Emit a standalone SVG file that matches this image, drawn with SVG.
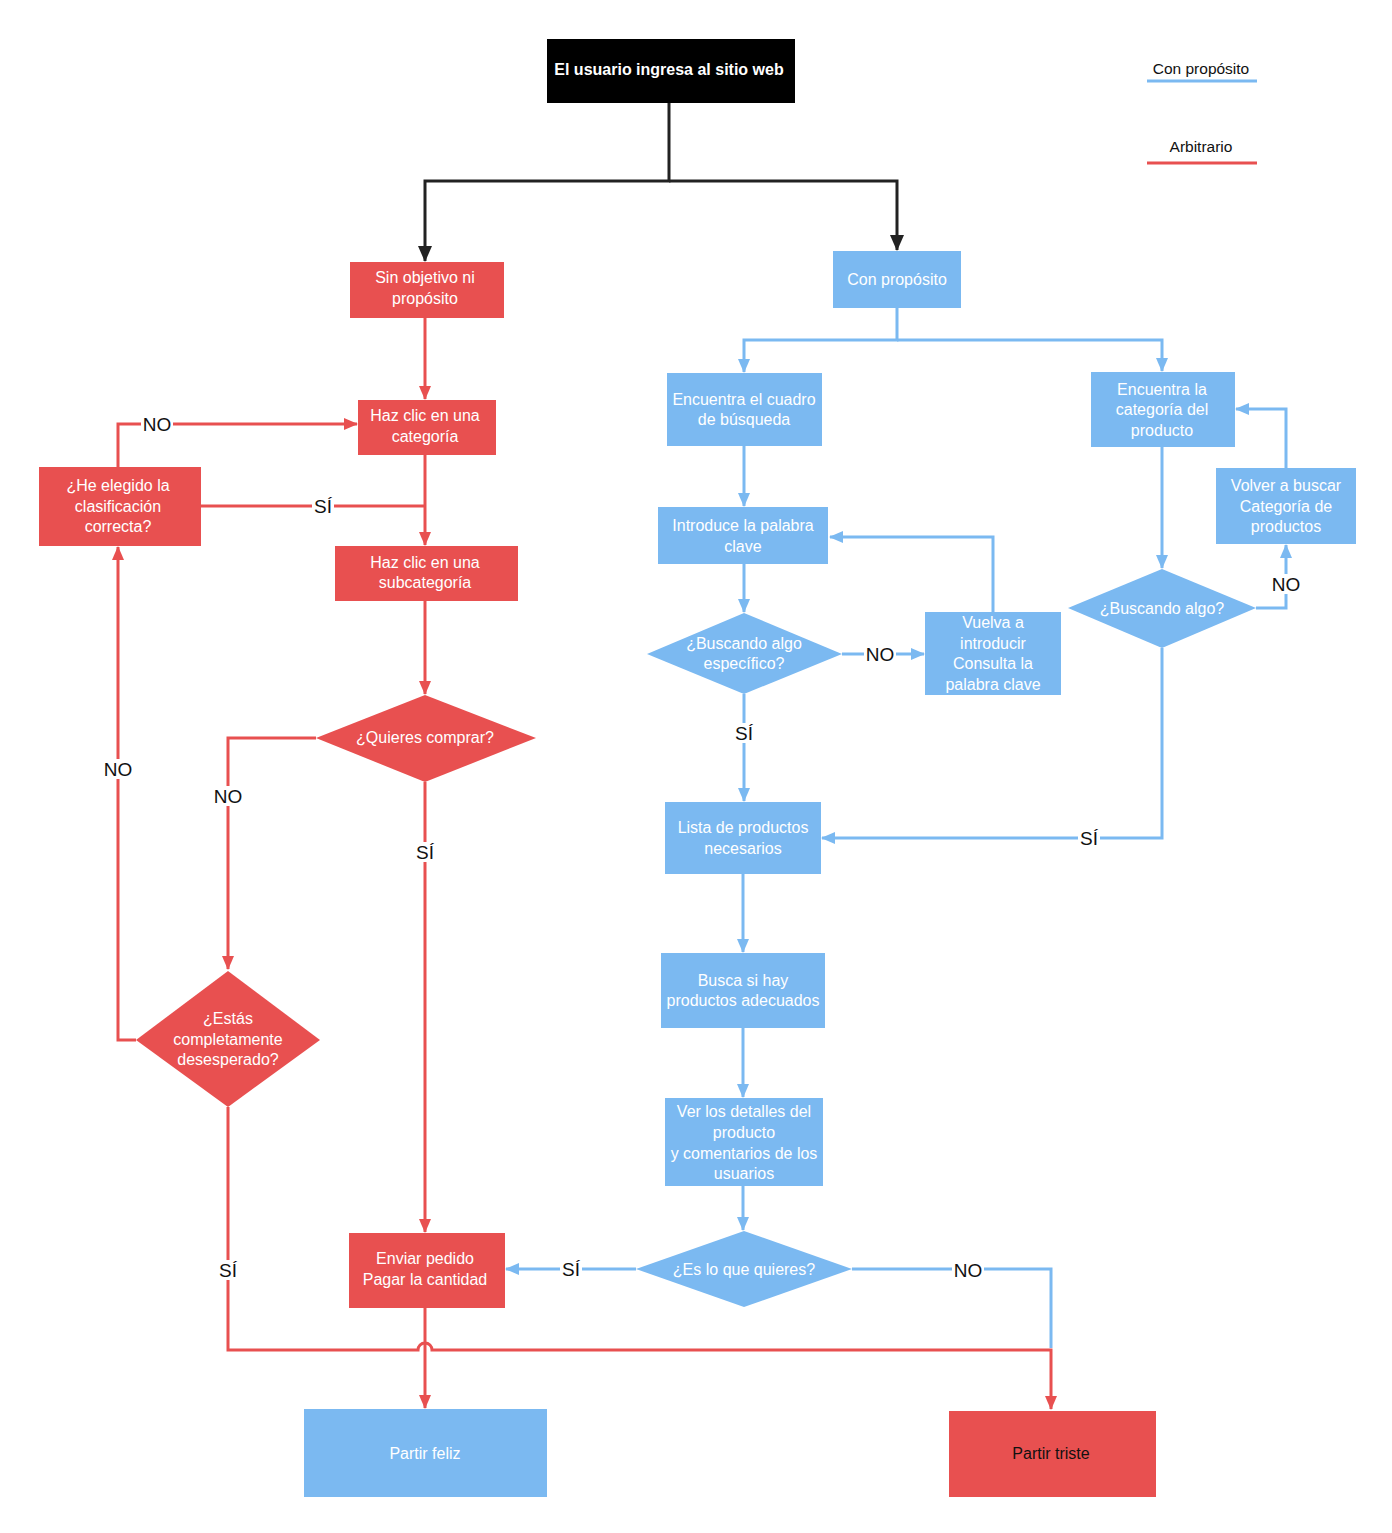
<svg xmlns="http://www.w3.org/2000/svg" width="1392" height="1533" viewBox="0 0 1392 1533">
<style>
text{font-family:"Liberation Sans",Arial,sans-serif}
.t{fill:#fff;font-size:16px;text-anchor:middle}
.r{fill:#E85050}
.b{fill:#7BB9F1}
.lr{stroke:#E85050;stroke-width:3;fill:none}
.lb{stroke:#7BB9F1;stroke-width:3;fill:none}
.lk{stroke:#222;stroke-width:3;fill:none}
.lab{font-size:19px;text-anchor:middle;fill:#111}
.bg{fill:#fff}
</style>
<defs>
<marker id="ar" markerWidth="14" markerHeight="14" refX="13" refY="7" orient="auto" markerUnits="userSpaceOnUse" viewBox="0 0 14 14"><path d="M0,1L14,7L0,13z" fill="#E85050"/></marker>
<marker id="ab" markerWidth="14" markerHeight="14" refX="13" refY="7" orient="auto" markerUnits="userSpaceOnUse" viewBox="0 0 14 14"><path d="M0,1L14,7L0,13z" fill="#7BB9F1"/></marker>
<marker id="ak" markerWidth="16" markerHeight="16" refX="15" refY="8" orient="auto" markerUnits="userSpaceOnUse" viewBox="0 0 16 16"><path d="M0,1L16,8L0,15z" fill="#222"/></marker>
</defs>
<rect width="1392" height="1533" fill="#fff"/>
<g id="legend">
<text x="1201" y="74" font-size="15.5" text-anchor="middle" fill="#111">Con propósito</text>
<line x1="1147" y1="81" x2="1257" y2="81" class="lb"/>
<text x="1201" y="152" font-size="15.5" text-anchor="middle" fill="#111">Arbitrario</text>
<line x1="1147" y1="163" x2="1257" y2="163" class="lr"/>
</g>
<g id="connectors">
<path class="lk" d="M669,103V181H425V261" marker-end="url(#ak)"/>
<path class="lk" d="M669,181H897V250" marker-end="url(#ak)"/>
<path class="lr" d="M425,318V399" marker-end="url(#ar)"/>
<path class="lr" d="M425,455V545" marker-end="url(#ar)"/>
<path class="lr" d="M118,467V424H357" marker-end="url(#ar)"/>
<path class="lr" d="M201,506H425"/>
<path class="lr" d="M425,601V694" marker-end="url(#ar)"/>
<path class="lr" d="M316,738H228V969" marker-end="url(#ar)"/>
<path class="lr" d="M136,1040H118V547" marker-end="url(#ar)"/>
<path class="lr" d="M228,1107V1350H418A7,7 0 0 1 432,1350H1051V1409" marker-end="url(#ar)"/>
<path class="lr" d="M425,782V1232" marker-end="url(#ar)"/>
<path class="lr" d="M425,1308V1408" marker-end="url(#ar)"/>
<path class="lb" d="M897,308V340H744V372" marker-end="url(#ab)"/>
<path class="lb" d="M897,340H1162V371" marker-end="url(#ab)"/>
<path class="lb" d="M744,446V506" marker-end="url(#ab)"/>
<path class="lb" d="M744,564V612" marker-end="url(#ab)"/>
<path class="lb" d="M842,654H924" marker-end="url(#ab)"/>
<path class="lb" d="M993,612V537H830" marker-end="url(#ab)"/>
<path class="lb" d="M744,694V801" marker-end="url(#ab)"/>
<path class="lb" d="M743,874V952" marker-end="url(#ab)"/>
<path class="lb" d="M743,1028V1097" marker-end="url(#ab)"/>
<path class="lb" d="M743,1186V1230" marker-end="url(#ab)"/>
<path class="lb" d="M636,1269H506" marker-end="url(#ab)"/>
<path class="lb" d="M852,1269H1051V1348"/>
<path class="lb" d="M1162,447V568" marker-end="url(#ab)"/>
<path class="lb" d="M1256,608H1286V545" marker-end="url(#ab)"/>
<path class="lb" d="M1286,468V409H1236" marker-end="url(#ab)"/>
<path class="lb" d="M1162,648V838H822" marker-end="url(#ab)"/>
<g>
<rect class="bg" x="141" y="414" width="32" height="20"/><text class="lab" x="157" y="431">NO</text>
<rect class="bg" x="312" y="496" width="22" height="20"/><text class="lab" x="323" y="513">SÍ</text>
<rect class="bg" x="212" y="786" width="32" height="20"/><text class="lab" x="228" y="803">NO</text>
<rect class="bg" x="102" y="759" width="32" height="20"/><text class="lab" x="118" y="776">NO</text>
<rect class="bg" x="217" y="1260" width="22" height="20"/><text class="lab" x="228" y="1277">SÍ</text>
<rect class="bg" x="414" y="842" width="22" height="20"/><text class="lab" x="425" y="859">SÍ</text>
<rect class="bg" x="864" y="644" width="32" height="20"/><text class="lab" x="880" y="661">NO</text>
<rect class="bg" x="733" y="723" width="22" height="20"/><text class="lab" x="744" y="740">SÍ</text>
<rect class="bg" x="560" y="1259" width="22" height="20"/><text class="lab" x="571" y="1276">SÍ</text>
<rect class="bg" x="952" y="1260" width="32" height="20"/><text class="lab" x="968" y="1277">NO</text>
<rect class="bg" x="1270" y="574" width="32" height="20"/><text class="lab" x="1286" y="591">NO</text>
<rect class="bg" x="1078" y="828" width="22" height="20"/><text class="lab" x="1089" y="845">SÍ</text>
</g>
</g>
<g id="start"><rect x="547" y="39" width="248" height="64" fill="#000"/><text class="t" x="669" y="75" font-weight="bold">El usuario ingresa al sitio web</text></g>
<g id="sin"><rect class="r" x="350" y="262" width="154" height="56"/><text class="t" x="425" y="283">Sin objetivo ni</text><text class="t" x="425" y="304">propósito</text></g>
<g id="cat"><rect class="r" x="358" y="400" width="138" height="55"/><text class="t" x="425" y="421">Haz clic en una</text><text class="t" x="425" y="442">categoría</text></g>
<g id="subcat"><rect class="r" x="335" y="546" width="183" height="55"/><text class="t" x="425" y="568">Haz clic en una</text><text class="t" x="425" y="588">subcategoría</text></g>
<g id="elegido"><rect class="r" x="39" y="467" width="162" height="79"/><text class="t" x="118" y="491">¿He elegido la</text><text class="t" x="118" y="512">clasificación</text><text class="t" x="118" y="532">correcta?</text></g>
<g id="comprar"><path class="r" d="M316,738L425,695L536,738L425,782z"/><text class="t" x="425" y="743">¿Quieres comprar?</text></g>
<g id="desesperado"><path class="r" d="M136,1040L228,971L320,1040L228,1107z"/><text class="t" x="228" y="1024">¿Estás</text><text class="t" x="228" y="1045">completamente</text><text class="t" x="228" y="1065">desesperado?</text></g>
<g id="enviar"><rect class="r" x="349" y="1233" width="156" height="75"/><text class="t" x="425" y="1264">Enviar pedido</text><text class="t" x="425" y="1285">Pagar la cantidad</text></g>
<g id="feliz"><rect class="b" x="304" y="1409" width="243" height="88"/><text class="t" x="425" y="1459">Partir feliz</text></g>
<g id="triste"><rect class="r" x="949" y="1411" width="207" height="86"/><text x="1051" y="1459" font-size="16" text-anchor="middle" fill="#111">Partir triste</text></g>
<g id="conprop"><rect class="b" x="833" y="251" width="128" height="57"/><text class="t" x="897" y="285">Con propósito</text></g>
<g id="cuadro"><rect class="b" x="667" y="373" width="155" height="73"/><text class="t" x="744" y="405">Encuentra el cuadro</text><text class="t" x="744" y="425">de búsqueda</text></g>
<g id="introduce"><rect class="b" x="658" y="507" width="170" height="57"/><text class="t" x="743" y="531">Introduce la palabra</text><text class="t" x="743" y="552">clave</text></g>
<g id="especifico"><path class="b" d="M647,654L744,613L842,654L744,694z"/><text class="t" x="744" y="649">¿Buscando algo</text><text class="t" x="744" y="669">específico?</text></g>
<g id="vuelva"><rect class="b" x="925" y="612" width="136" height="83"/><text class="t" x="993" y="628">Vuelva a</text><text class="t" x="993" y="649">introducir</text><text class="t" x="993" y="669">Consulta la</text><text class="t" x="993" y="690">palabra clave</text></g>
<g id="lista"><rect class="b" x="665" y="802" width="156" height="72"/><text class="t" x="743" y="833">Lista de productos</text><text class="t" x="743" y="854">necesarios</text></g>
<g id="busca"><rect class="b" x="661" y="953" width="164" height="75"/><text class="t" x="743" y="986">Busca si hay</text><text class="t" x="743" y="1006">productos adecuados</text></g>
<g id="detalles"><rect class="b" x="665" y="1098" width="158" height="88"/><text class="t" x="744" y="1117">Ver los detalles del</text><text class="t" x="744" y="1138">producto</text><text class="t" x="744" y="1159">y comentarios de los</text><text class="t" x="744" y="1179">usuarios</text></g>
<g id="quieres"><path class="b" d="M636,1269L744,1231L852,1269L744,1307z"/><text class="t" x="744" y="1275">¿Es lo que quieres?</text></g>
<g id="categoria"><rect class="b" x="1091" y="372" width="144" height="75"/><text class="t" x="1162" y="395">Encuentra la</text><text class="t" x="1162" y="415">categoría del</text><text class="t" x="1162" y="436">producto</text></g>
<g id="buscando"><path class="b" d="M1068,608L1162,569L1256,608L1162,648z"/><text class="t" x="1162" y="614">¿Buscando algo?</text></g>
<g id="volver"><rect class="b" x="1216" y="468" width="140" height="76"/><text class="t" x="1286" y="491">Volver a buscar</text><text class="t" x="1286" y="512">Categoría de</text><text class="t" x="1286" y="532">productos</text></g>
</svg>
